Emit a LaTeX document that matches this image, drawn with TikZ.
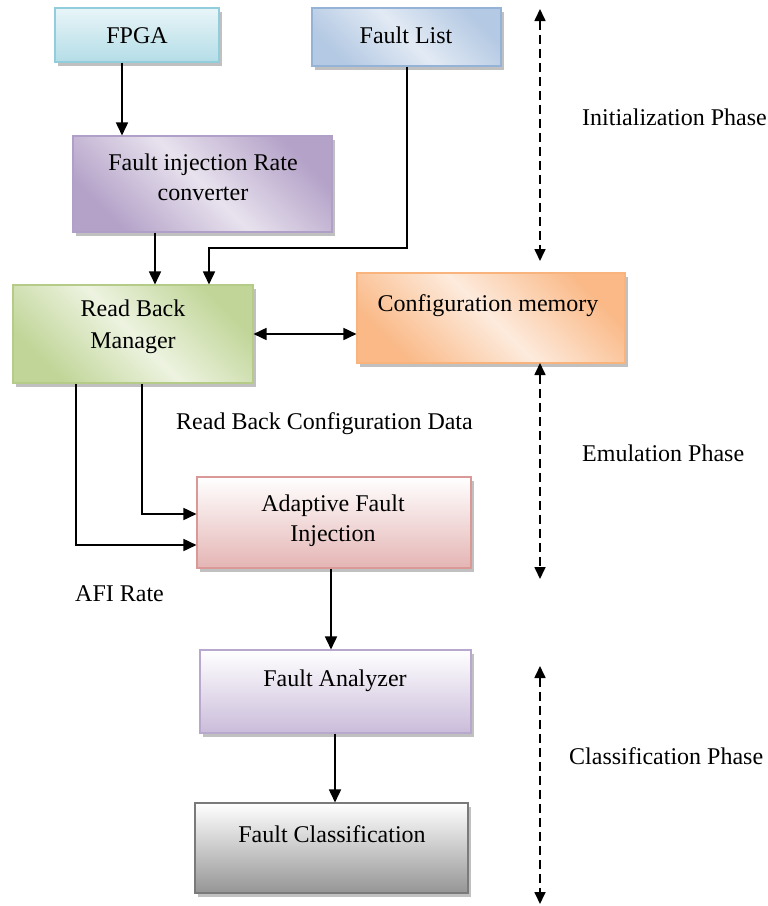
\documentclass[tikz,border=0pt]{standalone}
\usepackage{fontspec}
\setmainfont{Liberation Serif}
\usetikzlibrary{arrows.meta,shadows,calc}
\definecolor{cyanA}{HTML}{E8F5F8}
\definecolor{cyanB}{HTML}{B4DDE7}
\definecolor{cyanE}{HTML}{92CDDC}
\definecolor{bluA}{HTML}{B4C9E3}
\definecolor{bluB}{HTML}{E2EAF4}
\definecolor{bluE}{HTML}{95B3D7}
\definecolor{purA}{HTML}{B4A2C8}
\definecolor{purB}{HTML}{E8E2EE}
\definecolor{purE}{HTML}{B09FC6}
\definecolor{grnA}{HTML}{C0D597}
\definecolor{grnB}{HTML}{EDF3E0}
\definecolor{grnE}{HTML}{B5CC88}
\definecolor{orgA}{HTML}{FAB987}
\definecolor{orgB}{HTML}{FDEBDD}
\definecolor{orgE}{HTML}{F9B47E}
\definecolor{pnkB}{HTML}{E4B5B4}
\definecolor{pnkE}{HTML}{DA9896}
\definecolor{lavB}{HTML}{CABCDA}
\definecolor{lavE}{HTML}{B9A8CE}
\definecolor{gryB}{HTML}{959595}
\definecolor{gryE}{HTML}{7A7A7A}
\tikzset{
  box/.style={draw, line width=1.1pt, inner sep=0pt,
    drop shadow={shadow xshift=3pt, shadow yshift=-3.5pt, fill=black!55, opacity=.45}},
  diag/.style 2 args={left color=#1, right color=#1, middle color=#2, shading angle=135},
  vert/.style 2 args={top color=#1, bottom color=#2},
  txt/.style={inner sep=0pt, anchor=base, font=\fontsize{24}{30}\selectfont},
  ltxt/.style={txt, anchor=base west},
  arr/.style={line width=1.7pt, -{Triangle[width=12pt,length=13pt]}},
  darr/.style={line width=1.7pt, {Triangle[width=12pt,length=13pt]}-{Triangle[width=12pt,length=13pt]}},
  dasharr/.style={line width=1.7pt, dash pattern=on 9pt off 5pt,
    {Triangle[width=11pt,length=12pt]}-{Triangle[width=11pt,length=12pt]}}
}
\begin{document}
\begin{tikzpicture}[x=1pt,y=-1pt]
\useasboundingbox (0,0) rectangle (768,906);
% boxes
\node[box, draw=cyanE, vert={cyanA}{cyanB}, minimum width=164pt, minimum height=54pt] (fpga) at (137,35) {};
\node[box, draw=bluE, diag={bluA}{bluB}, minimum width=189pt, minimum height=58pt] (flist) at (406.5,37) {};
\node[box, draw=purE, diag={purA}{purB}, minimum width=259pt, minimum height=96pt] (firc) at (202.5,184) {};
\node[box, draw=grnE, diag={grnA}{grnB}, minimum width=240pt, minimum height=98pt] (rbm) at (133,334) {};
\node[box, draw=orgE, diag={orgA}{orgB}, minimum width=268pt, minimum height=90pt] (cm) at (491,318) {};
\node[box, draw=pnkE, vert={white}{pnkB}, minimum width=274pt, minimum height=91pt] (afi) at (334,522.5) {};
\node[box, draw=lavE, vert={white}{lavB}, minimum width=271pt, minimum height=83pt] (fa) at (335.5,691.5) {};
\node[box, draw=gryE, vert={white}{gryB}, minimum width=273pt, minimum height=90pt] (fc) at (331.5,848) {};
% box texts
\node[txt] (fpgat) at (137,43) {FPGA};
\node[txt] (flistt) at (406,43) {Fault List};
\node[txt] (firct1) at (203,170) {Fault injection Rate};
\node[txt] (firct2) at (203,200) {converter};
\node[txt] (rbmt1) at (133,316) {Read Back};
\node[txt] (rbmt2) at (133,348) {Manager};
\node[txt] (cmt) at (488,311) {Configuration memory};
\node[txt] (afit1) at (333,511) {Adaptive Fault};
\node[txt] (afit2) at (333,541) {Injection};
\node[txt] (fat) at (335,686) {Fault Analyzer};
\node[txt] (fct) at (332,842) {Fault Classification};
% free labels
\node[ltxt] (rbcd) at (176,429) {Read Back Configuration Data};
\node[ltxt] (afir) at (75,601) {AFI Rate};
\node[ltxt] (ph1) at (582,125) {Initialization Phase};
\node[ltxt] (ph2) at (582,461) {Emulation Phase};
\node[ltxt] (ph3) at (569,764) {Classification Phase};
% helper coordinates
\coordinate (c122) at (122,0);
\coordinate (c155) at (155,0);
\coordinate (c407) at (407,248);
\coordinate (c209) at (209,248);
\coordinate (c142) at (142,514);
\coordinate (c76) at (76,545);
\coordinate (c331) at (331,0);
\coordinate (c335) at (335,0);
% connectors
\draw[arr] (fpga.south -| c122) -- (firc.north -| c122);
\draw[arr] (firc.south -| c155) -- (rbm.north -| c155);
\draw[arr] (flist.south -| c407) -- (c407) -- (c209) -- (rbm.north -| c209);
\draw[darr] (rbm.east) -- (rbm.east -| cm.west);
\draw[arr] (rbm.south -| c142) |- (afi.west |- c142);
\draw[arr] (rbm.south -| c76) |- (afi.west |- c76);
\draw[arr] (afi.south -| c331) -- (fa.north -| c331);
\draw[arr] (fa.south -| c335) -- (fc.north -| c335);
% phase arrows
\coordinate (p1a) at (540,9);
\coordinate (p1b) at (540,261);
\coordinate (p2a) at (540,363);
\coordinate (p2b) at (540,579);
\coordinate (p3a) at (540,666);
\coordinate (p3b) at (540,904);
\draw[dasharr] (p1a) -- (p1b);
\draw[dasharr] (p2a) -- (p2b);
\draw[dasharr] (p3a) -- (p3b);
\end{tikzpicture}
\end{document}
